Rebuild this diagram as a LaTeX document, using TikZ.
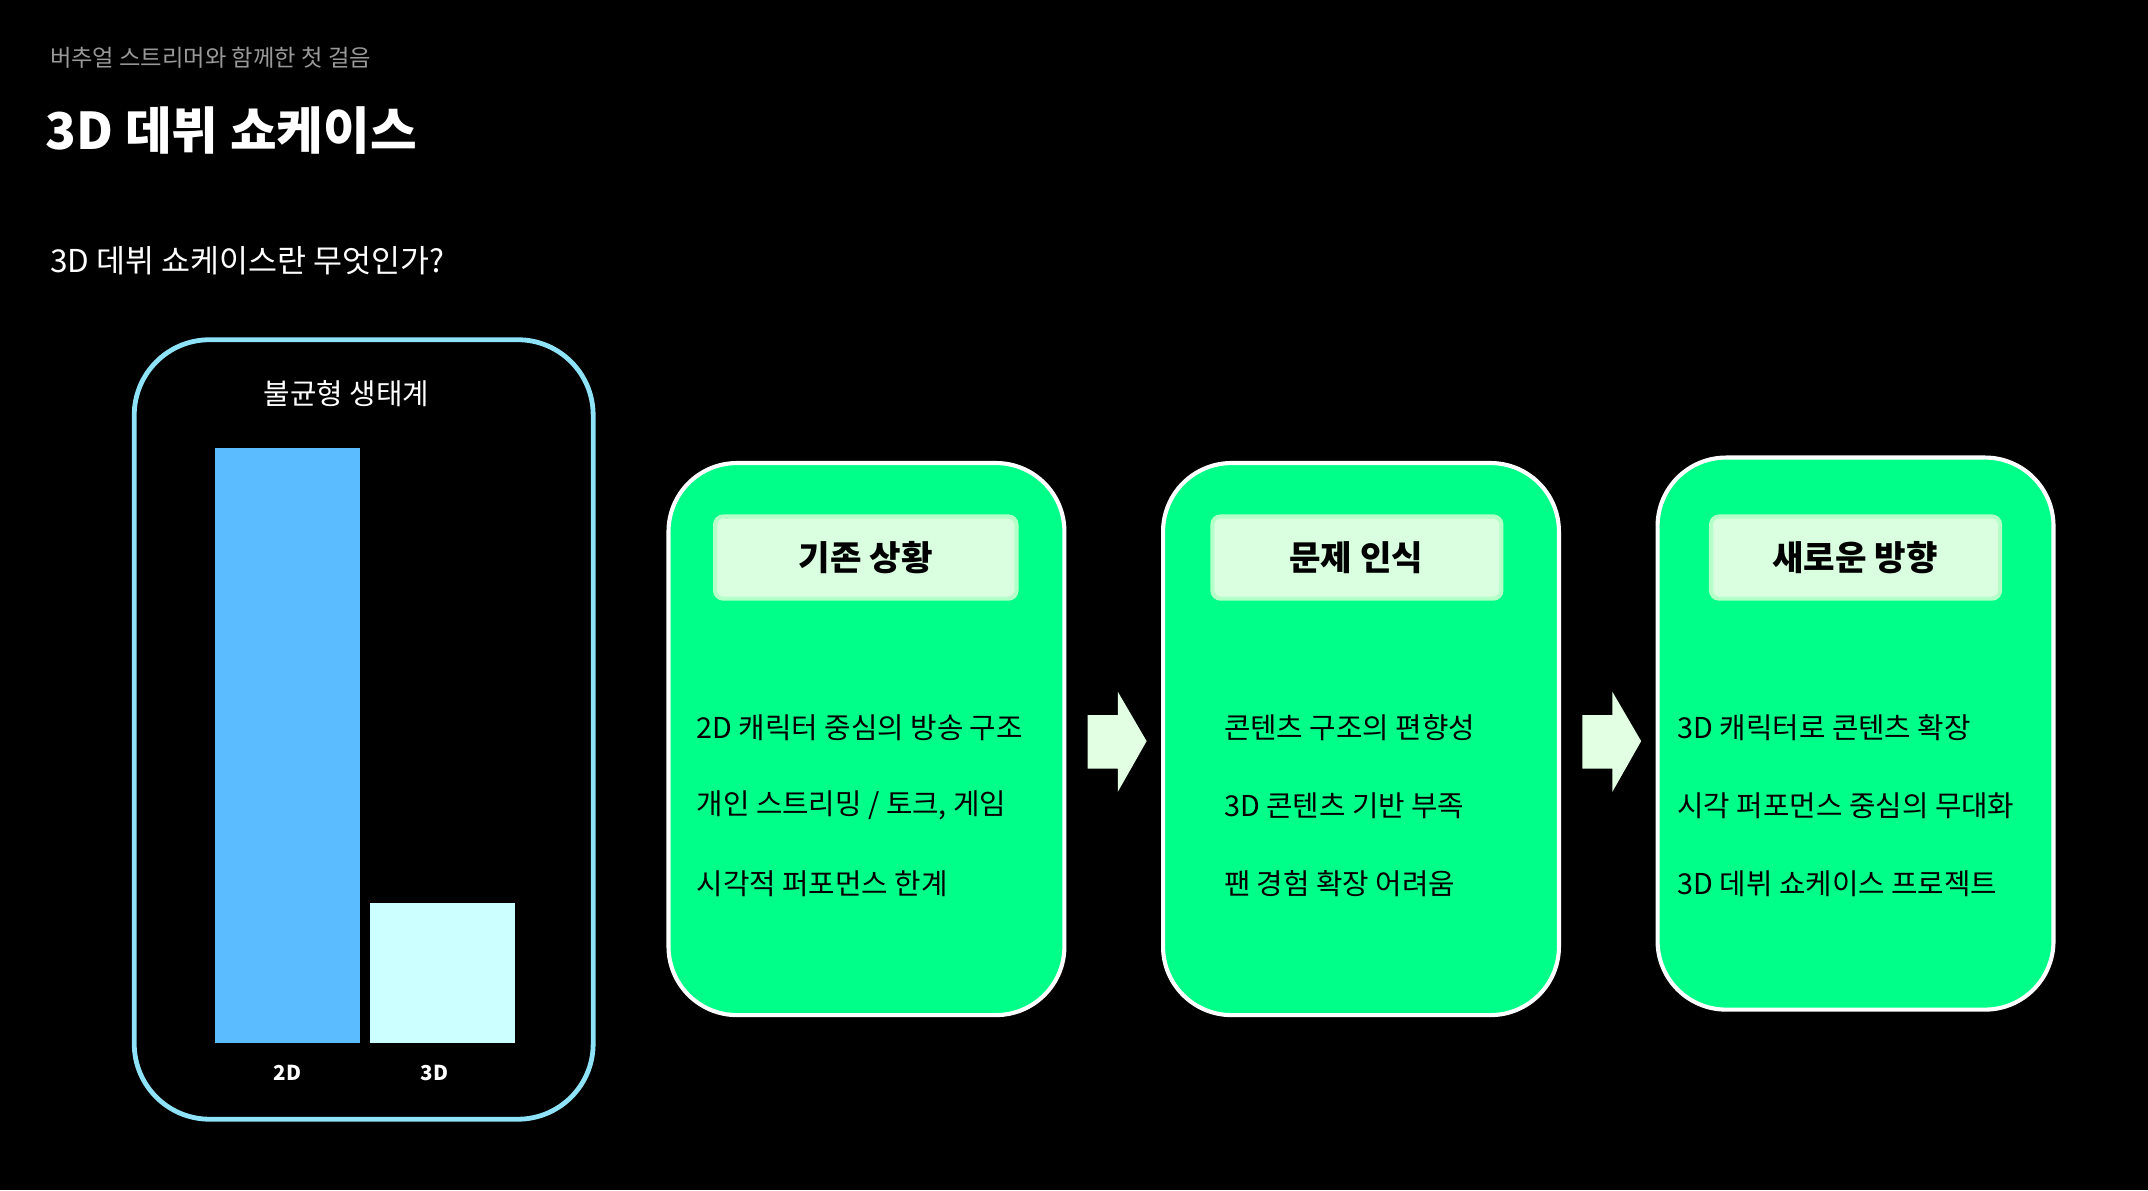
\documentclass[tikz,border=0pt]{standalone}
\usepackage{fontspec}
\setmainfont{Noto Sans CJK KR}
\definecolor{grn}{HTML}{00FF88}
\definecolor{pill}{HTML}{D9FFE0}
\definecolor{pillb}{HTML}{B5FFC9}
\definecolor{cyanb}{HTML}{8EE3F8}
\definecolor{bar1}{HTML}{5BBCFF}
\definecolor{bar2}{HTML}{CCFFFF}
\definecolor{arr}{HTML}{E2FFE4}
\begin{document}
\begin{tikzpicture}[x=1pt,y=-1pt,
  card/.style={draw=white,line width=3pt,fill=grn,rounded corners=50pt},
  pillbox/.style={draw=pillb,line width=3pt,fill=pill,rounded corners=6pt},
  head/.style={font=\fontsize{25}{30}\selectfont\bfseries,text=black},
  item/.style={font=\fontsize{21}{25}\selectfont,text=black,anchor=west},
  blk/.style={fill=arr}]
\fill[black] (0,0) rectangle (1568,869);
\node[anchor=west,text=gray!80,font=\fontsize{17}{20}\selectfont] (sub) at (33,42) {버추얼 스트리머와 함께한 첫 걸음};
\node[anchor=west,text=white,font=\fontsize{37}{44}\selectfont\bfseries] (title) at (30,95) {3D 데뷔 쇼케이스};
\node[anchor=west,text=white,font=\fontsize{23}{28}\selectfont] (q) at (33,190) {3D 데뷔 쇼케이스란 무엇인가?};
% left panel
\draw[draw=cyanb,line width=3.5pt,rounded corners=55pt] (98,248) rectangle (433,817);
\node[text=white,font=\fontsize{21}{25}\selectfont] (eco) at (253,287) {불균형 생태계};
\fill[bar1] (157,327) rectangle (263,761);
\fill[bar2] (270,659) rectangle (376,761);
\node[text=white,font=\fontsize{15}{18}\selectfont\bfseries] (l2) at (210,783) {2D};
\node[text=white,font=\fontsize{15}{18}\selectfont\bfseries] (l3) at (317,783) {3D};
% cards
\draw[card] (488,338) rectangle (777,741);
\draw[card] (849,338) rectangle (1138,741);
\draw[card] (1210,334) rectangle (1499,737);
\draw[pillbox] (522,377) rectangle (742,437);
\draw[pillbox] (885,377) rectangle (1096,437);
\draw[pillbox] (1249,377) rectangle (1460,437);
\node[head] (h1) at (632,407) {기존 상황};
\node[head] (h2) at (990,407) {문제 인식};
\node[head] (h3) at (1354,407) {새로운 방향};
\node[item] (a1) at (505,531) {2D 캐릭터 중심의 방송 구조};
\node[item] (a2) at (505,588) {개인 스트리밍 / 토크, 게임};
\node[item] (a3) at (505,645) {시각적 퍼포먼스 한계};
\node[item] (b1) at (890,531) {콘텐츠 구조의 편향성};
\node[item] (b2) at (890,588) {3D 콘텐츠 기반 부족};
\node[item] (b3) at (890,645) {팬 경험 확장 어려움};
\node[item] (c1) at (1221,531) {3D 캐릭터로 콘텐츠 확장};
\node[item] (c2) at (1221,588) {시각 퍼포먼스 중심의 무대화};
\node[item] (c3) at (1221,645) {3D 데뷔 쇼케이스 프로젝트};
% arrows
\fill[blk] (794,522) -- (816,522) -- (816,505) -- (837,541) -- (816,578) -- (816,561) -- (794,561) -- cycle;
\fill[blk] (1155,522) -- (1177,522) -- (1177,505) -- (1198,541) -- (1177,578) -- (1177,561) -- (1155,561) -- cycle;
\end{tikzpicture}
\end{document}
